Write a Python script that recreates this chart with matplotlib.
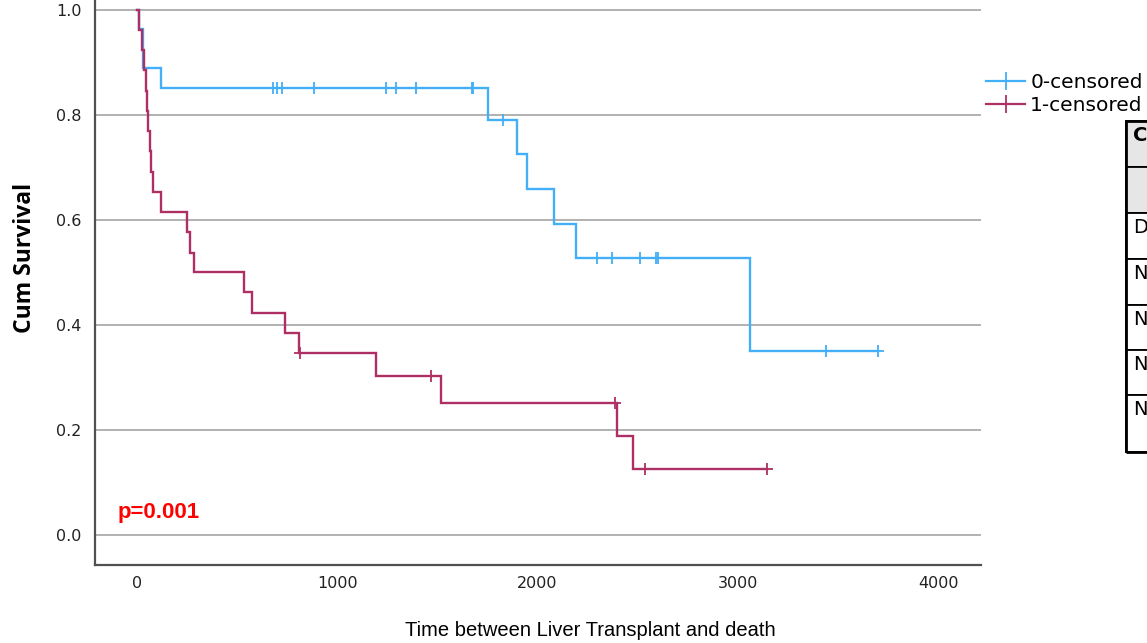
import numpy as np
import matplotlib
matplotlib.use("Agg")
import matplotlib.pyplot as plt
from matplotlib.lines import Line2D
from matplotlib.patches import Rectangle

# ---- data ----
group_labels = ["0-censored", "1-censored"]

g0_times = [0, 12, 32, 120, 1754, 1895, 1945, 2082, 2192, 3060, 3698]
g0_surv = [1.0, 0.963, 0.889, 0.852, 0.791, 0.725, 0.659, 0.593, 0.527, 0.351, 0.351]
g0_censor = [680, 700, 725, 884, 1241, 1291, 1391, 1670, 1678, 1829,
             2295, 2371, 2510, 2590, 2600, 3440, 3698]

g1_times = [0, 12, 23, 35, 45, 48, 57, 65, 70, 82, 120, 248, 265, 283,
            534, 572, 739, 810, 1193, 1518, 2398, 2475, 3147]
g1_surv = [1.0, 0.962, 0.923, 0.885, 0.846, 0.808, 0.769, 0.731, 0.692, 0.654,
           0.615, 0.577, 0.538, 0.500, 0.462, 0.423, 0.385, 0.346, 0.303,
           0.252, 0.189, 0.126, 0.126]
g1_censor = [814, 1466, 2386, 2536, 3147]

y_ticks = [0.0, 0.2, 0.4, 0.6, 0.8, 1.0]
x_ticks = [0, 1000, 2000, 3000, 4000]
table_letters = ["C", "", "D", "N", "N", "N", "N"]

colors = ["#42AFF7", "#AD2F63"]

W, H = 1147, 643
fig = plt.figure(figsize=(W / 100, H / 100), dpi=100)
ax = fig.add_axes([95 / W, 1 - 565 / H, (981 - 95) / W, 565 / H])

def step_at(times, surv, t):
    idx = np.searchsorted(times, t, side="right") - 1
    return np.asarray(surv)[idx]

for times, surv, cens, c in [(g0_times, g0_surv, g0_censor, colors[0]),
                             (g1_times, g1_surv, g1_censor, colors[1])]:
    ax.step(times, surv, where="post", color=c, lw=1.7, solid_joinstyle="miter", zorder=3)
    ax.plot(cens, step_at(times, surv, cens), ls="none", marker="+",
            ms=9, mew=1.3, color=c, zorder=4)

ax.set_xlim(-210, 4214)
ax.set_ylim(-0.0571, 1.019)
ax.set_yticks(y_ticks)
ax.set_yticklabels([f"{v:.1f}" for v in y_ticks])
ax.set_xticks(x_ticks)
ax.set_xticklabels([str(v) for v in x_ticks])
ax.tick_params(length=0, labelsize=11.5, colors="#222222")
ax.tick_params(axis="y", pad=9.5)
ax.tick_params(axis="x", pad=8)
ax.yaxis.grid(True, color="#ABABAB", lw=1.3)
ax.set_axisbelow(True)
for s in ["top", "right"]:
    ax.spines[s].set_visible(False)
for s in ["left", "bottom"]:
    ax.spines[s].set_color("#505050")
    ax.spines[s].set_linewidth(1.6)

ax.text(-95, 0.042, "p=0.001", color="#FF0000", fontsize=16, fontweight="bold",
        family="Liberation Sans", va="center", ha="left")

fig.text(25 / W, 1 - 258 / H, "Cum Survival", rotation=90, fontsize=16.5,
         fontweight="bold", family="Open Sans", ha="center", va="center")
fig.text(590 / W, 1 - 631 / H, "Time between Liver Transplant and death",
         fontsize=14.5, family="Liberation Sans", ha="center", va="center")

handles = [Line2D([], [], color=c, lw=1.6, marker="+", ms=13, mew=1.3) for c in colors]
fig.legend(handles, group_labels, loc="upper left", bbox_to_anchor=(986 / W, 1 - 73 / H),
           frameon=False, fontsize=14.5, handlelength=1.95, handletextpad=0.25,
           labelspacing=0.2, borderpad=0, borderaxespad=0)

# partial table on the right edge
row_edges = [121, 167, 213, 259, 305, 350, 395, 452]
for i in range(len(row_edges) - 1):
    top, bot = row_edges[i], row_edges[i + 1]
    fill = "#E6E6E6" if i < 2 else "white"
    fig.patches.append(Rectangle((1126 / W, 1 - bot / H), 40 / W, (bot - top) / H,
                                 transform=fig.transFigure, facecolor=fill,
                                 edgecolor="black", lw=1.3))
    if table_letters[i]:
        fig.text(1133 / W, 1 - (top + 5) / H, table_letters[i], fontsize=14,
                 fontweight="bold" if i == 0 else "normal", ha="left", va="top")
fig.patches.append(Rectangle((1126 / W, 1 - 452 / H), 40 / W, (452 - 121) / H,
                             transform=fig.transFigure, facecolor="none",
                             edgecolor="black", lw=2.0))

fig.savefig("out.png", dpi=100)
